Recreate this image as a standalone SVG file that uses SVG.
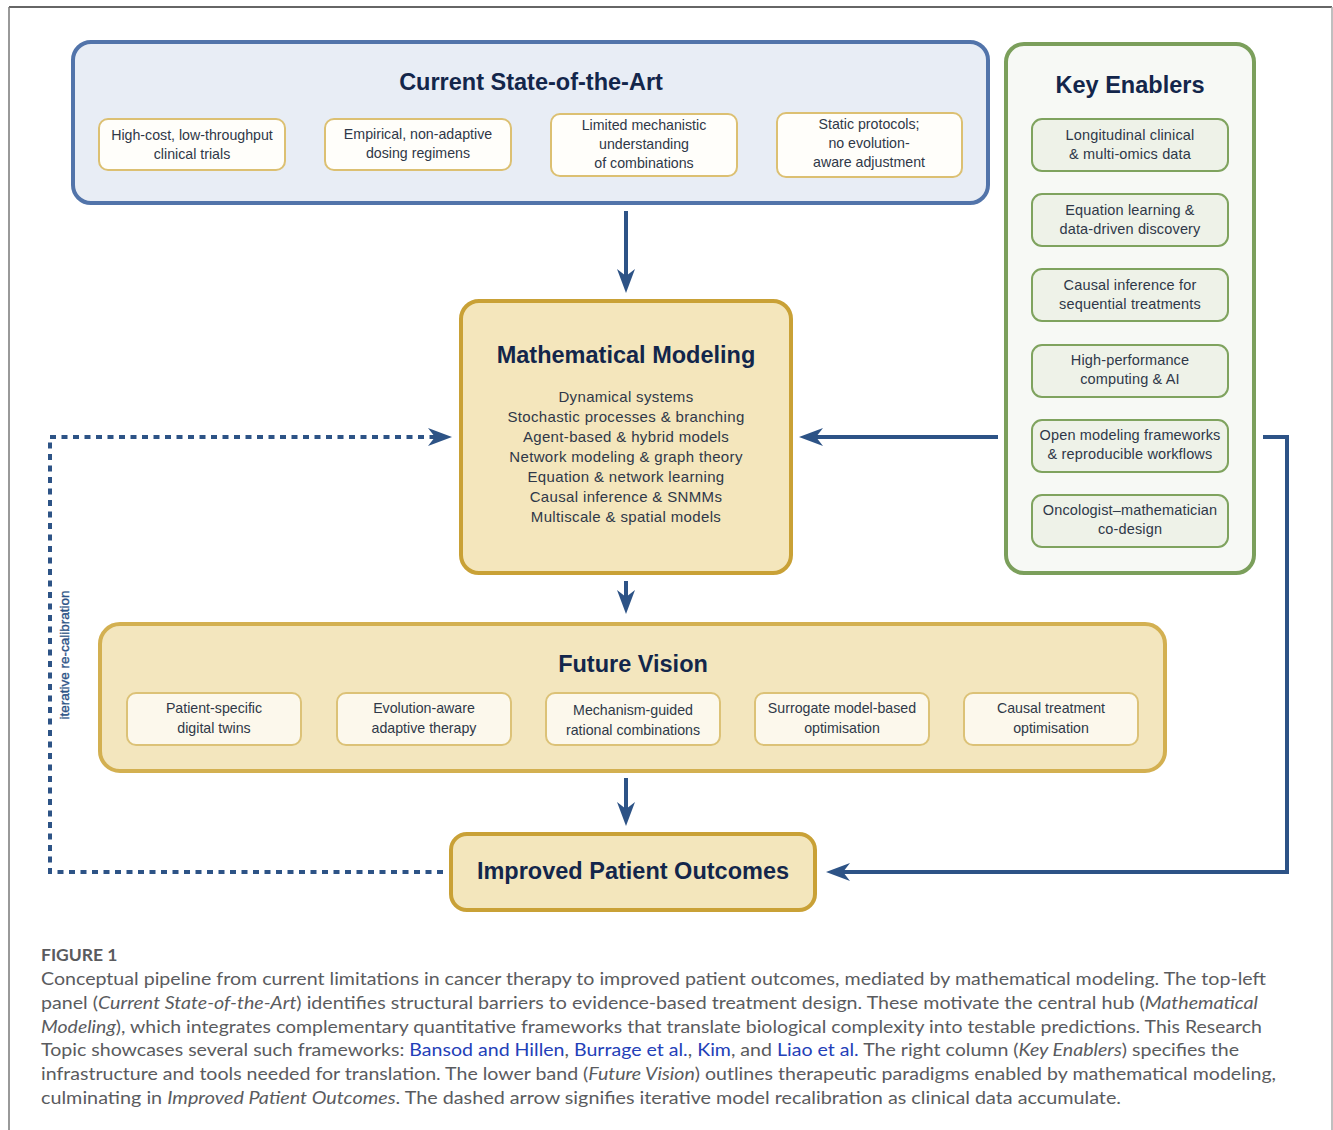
<svg xmlns="http://www.w3.org/2000/svg" width="1333" height="1130" viewBox="0 0 1333 1130">
<style>
.t{font-family:"Liberation Sans",Arial,sans-serif;text-anchor:middle}
.ttl{font-weight:bold;font-size:23.5px;fill:#13264b}
.card{font-size:14.2px;fill:#2f3848}
.ke{font-size:14.5px;fill:#2f3848;letter-spacing:0.15px}
.mm{font-size:15px;fill:#2f3848;letter-spacing:0.35px}
.cap{font-family:Lato,"Open Sans",sans-serif;font-size:17.5px;fill:#5a5b5e}
.i{font-style:italic}
.a{fill:#2340b8}
.conn{fill:none;stroke:#2d5386;stroke-width:4}
</style>
<defs>
<marker id="ah" viewBox="0 0 24 20" refX="18" refY="10" markerWidth="24" markerHeight="20" markerUnits="userSpaceOnUse" orient="auto">
<path d="M0,1 L24,10 L0,19 L7,10 Z" fill="#2d5386"/>
</marker>
</defs>
<rect width="1333" height="1130" fill="#ffffff"/>
<g id="frame" fill="none">
<line x1="9" y1="7" x2="1332" y2="7" stroke="#333" stroke-width="1.5"/>
<line x1="9" y1="7" x2="9" y2="1130" stroke="#777" stroke-width="1.5"/>
<line x1="1332" y1="7" x2="1332" y2="1130" stroke="#aaa" stroke-width="1.5"/>
</g>

<g id="current-state">
<rect x="73" y="42" width="915" height="161" rx="18" fill="#e8edf5" stroke="#5274aa" stroke-width="4"/>
<text class="t ttl" x="531" y="90">Current State-of-the-Art</text>
<rect x="99" y="119" width="186" height="51" rx="9" fill="#fffefa" stroke="#dcc072" stroke-width="2"/>
<text class="t card" x="192" y="140">High-cost, low-throughput</text>
<text class="t card" x="192" y="159">clinical trials</text>
<rect x="325" y="119" width="186" height="51" rx="9" fill="#fffefa" stroke="#dcc072" stroke-width="2"/>
<text class="t card" x="418" y="139">Empirical, non-adaptive</text>
<text class="t card" x="418" y="158">dosing regimens</text>
<rect x="551" y="114" width="186" height="62" rx="9" fill="#fffefa" stroke="#dcc072" stroke-width="2"/>
<text class="t card" x="644" y="130">Limited mechanistic</text>
<text class="t card" x="644" y="149">understanding</text>
<text class="t card" x="644" y="168">of combinations</text>
<rect x="777" y="113" width="185" height="64" rx="9" fill="#fffefa" stroke="#dcc072" stroke-width="2"/>
<text class="t card" x="869" y="129">Static protocols;</text>
<text class="t card" x="869" y="148">no evolution-</text>
<text class="t card" x="869" y="167">aware adjustment</text>
</g>

<g id="key-enablers">
<rect x="1006" y="44" width="248" height="529" rx="18" fill="#f7f9f5" stroke="#7b9f5b" stroke-width="4"/>
<text class="t ttl" x="1130" y="93">Key Enablers</text>
<rect x="1032" y="119" width="196" height="52" rx="10" fill="#eef2e8" stroke="#7fa35e" stroke-width="2"/>
<text class="t ke" x="1130" y="140">Longitudinal clinical</text>
<text class="t ke" x="1130" y="159">&amp; multi-omics data</text>
<rect x="1032" y="194" width="196" height="52" rx="10" fill="#eef2e8" stroke="#7fa35e" stroke-width="2"/>
<text class="t ke" x="1130" y="215">Equation learning &amp;</text>
<text class="t ke" x="1130" y="234">data-driven discovery</text>
<rect x="1032" y="269" width="196" height="52" rx="10" fill="#eef2e8" stroke="#7fa35e" stroke-width="2"/>
<text class="t ke" x="1130" y="290">Causal inference for</text>
<text class="t ke" x="1130" y="309">sequential treatments</text>
<rect x="1032" y="345" width="196" height="52" rx="10" fill="#eef2e8" stroke="#7fa35e" stroke-width="2"/>
<text class="t ke" x="1130" y="365">High-performance</text>
<text class="t ke" x="1130" y="384">computing &amp; AI</text>
<rect x="1032" y="420" width="196" height="52" rx="10" fill="#eef2e8" stroke="#7fa35e" stroke-width="2"/>
<text class="t ke" x="1130" y="440">Open modeling frameworks</text>
<text class="t ke" x="1130" y="459">&amp; reproducible workflows</text>
<rect x="1032" y="495" width="196" height="52" rx="10" fill="#eef2e8" stroke="#7fa35e" stroke-width="2"/>
<text class="t ke" x="1130" y="515">Oncologist–mathematician</text>
<text class="t ke" x="1130" y="534">co-design</text>
</g>

<g id="math-modeling">
<rect x="461" y="301" width="330" height="272" rx="18" fill="#f4e6bc" stroke="#c9a136" stroke-width="4"/>
<text class="t ttl" x="626" y="363">Mathematical Modeling</text>
<text class="t mm" x="626" y="402">Dynamical systems</text>
<text class="t mm" x="626" y="422">Stochastic processes &amp; branching</text>
<text class="t mm" x="626" y="442">Agent-based &amp; hybrid models</text>
<text class="t mm" x="626" y="462">Network modeling &amp; graph theory</text>
<text class="t mm" x="626" y="482">Equation &amp; network learning</text>
<text class="t mm" x="626" y="502">Causal inference &amp; SNMMs</text>
<text class="t mm" x="626" y="522">Multiscale &amp; spatial models</text>
</g>

<g id="future-vision">
<rect x="100" y="624" width="1065" height="147" rx="20" fill="#f3e6be" stroke="#d3b051" stroke-width="4"/>
<text class="t ttl" x="633" y="672">Future Vision</text>
<rect x="127" y="693" width="174" height="52" rx="9" fill="#fcf8ec" stroke="#dcc277" stroke-width="2"/>
<text class="t card" x="214" y="713">Patient-specific</text>
<text class="t card" x="214" y="733">digital twins</text>
<rect x="337" y="693" width="174" height="52" rx="9" fill="#fcf8ec" stroke="#dcc277" stroke-width="2"/>
<text class="t card" x="424" y="713">Evolution-aware</text>
<text class="t card" x="424" y="733">adaptive therapy</text>
<rect x="546" y="693" width="174" height="52" rx="9" fill="#fcf8ec" stroke="#dcc277" stroke-width="2"/>
<text class="t card" x="633" y="715">Mechanism-guided</text>
<text class="t card" x="633" y="735">rational combinations</text>
<rect x="755" y="693" width="174" height="52" rx="9" fill="#fcf8ec" stroke="#dcc277" stroke-width="2"/>
<text class="t card" x="842" y="713">Surrogate model-based</text>
<text class="t card" x="842" y="733">optimisation</text>
<rect x="964" y="693" width="174" height="52" rx="9" fill="#fcf8ec" stroke="#dcc277" stroke-width="2"/>
<text class="t card" x="1051" y="713">Causal treatment</text>
<text class="t card" x="1051" y="733">optimisation</text>
</g>

<g id="improved-outcomes">
<rect x="451" y="834" width="364" height="76" rx="16" fill="#f3e6bc" stroke="#c9a136" stroke-width="4"/>
<text class="t ttl" x="633" y="879">Improved Patient Outcomes</text>
</g>

<g id="connectors">
<path class="conn" d="M626,211 V287" marker-end="url(#ah)"/>
<path class="conn" d="M626,581 V608" marker-end="url(#ah)"/>
<path class="conn" d="M626,778 V820" marker-end="url(#ah)"/>
<path class="conn" d="M998,437 H805" marker-end="url(#ah)"/>
<path class="conn" d="M1263,437 H1287 V872 H832" marker-end="url(#ah)"/>
<path class="conn" d="M443,872 H50 V437 H446" stroke-width="3.5" stroke-dasharray="6,5.5" marker-end="url(#ah)"/>
<text class="t" x="0" y="0" transform="translate(69,655) rotate(-90)" font-size="13.5" fill="#2d5386" stroke="#2d5386" stroke-width="0.35">iterative re-calibration</text>
</g>

<g id="caption">
<text class="cap" x="41" y="961" font-size="14" font-weight="bold" fill="#6a6b6e">FIGURE 1</text>
<text class="cap" x="41" y="985" textLength="1225" lengthAdjust="spacingAndGlyphs">Conceptual pipeline from current limitations in cancer therapy to improved patient outcomes, mediated by mathematical modeling. The top-left</text>
<text class="cap" x="41" y="1009" textLength="1217" lengthAdjust="spacingAndGlyphs">panel (<tspan class="i">Current State-of-the-Art</tspan>) identifies structural barriers to evidence-based treatment design. These motivate the central hub (<tspan class="i">Mathematical</tspan></text>
<text class="cap" x="41" y="1033" textLength="1221" lengthAdjust="spacingAndGlyphs"><tspan class="i">Modeling</tspan>), which integrates complementary quantitative frameworks that translate biological complexity into testable predictions. This Research</text>
<text class="cap" x="41" y="1056" textLength="1198" lengthAdjust="spacingAndGlyphs">Topic showcases several such frameworks: <tspan class="a">Bansod and Hillen</tspan>, <tspan class="a">Burrage et al.</tspan>, <tspan class="a">Kim</tspan>, and <tspan class="a">Liao et al.</tspan> The right column (<tspan class="i">Key Enablers</tspan>) specifies the</text>
<text class="cap" x="41" y="1080" textLength="1235" lengthAdjust="spacingAndGlyphs">infrastructure and tools needed for translation. The lower band (<tspan class="i">Future Vision</tspan>) outlines therapeutic paradigms enabled by mathematical modeling,</text>
<text class="cap" x="41" y="1104" textLength="1080" lengthAdjust="spacingAndGlyphs">culminating in <tspan class="i">Improved Patient Outcomes</tspan>. The dashed arrow signifies iterative model recalibration as clinical data accumulate.</text>
</g>
</svg>
